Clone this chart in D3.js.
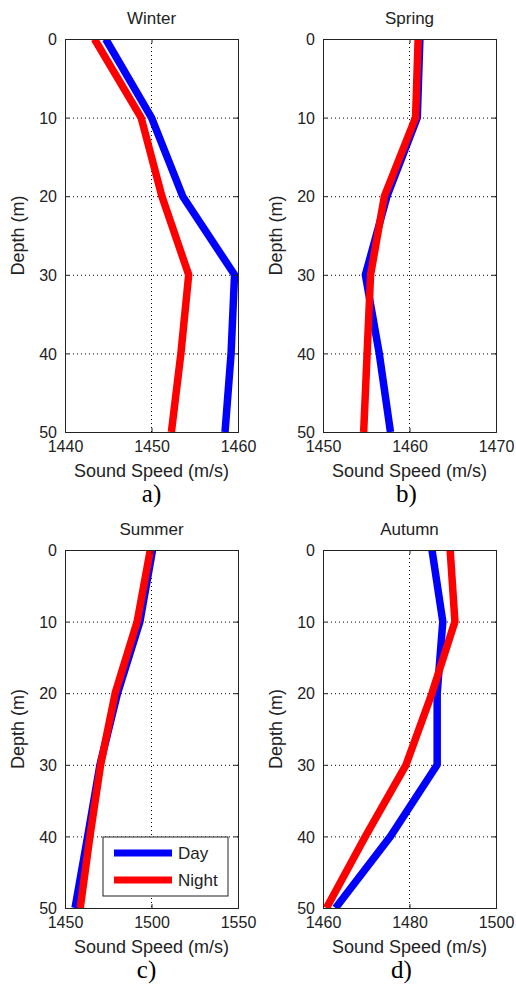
<!DOCTYPE html>
<html>
<head>
<meta charset="utf-8">
<script src="https://cdn.jsdelivr.net/npm/d3@7"></script>
<style>
body { margin: 0; background: #fff; }
text { font-family: "Liberation Sans", Arial, sans-serif; fill: #222; }
</style>
</head>
<body>
<svg id="fig" width="516" height="993"></svg>
<script>
// Depth levels (m) shared by all profiles
var depths = [0, 10, 20, 30, 40, 50];

// Sound speed (m/s)
var winterDay   = [1444.7, 1450.0, 1453.6, 1459.6, 1459.2, 1458.5];
var winterNight = [1443.4, 1448.8, 1451.2, 1454.3, 1453.4, 1452.3];
var springDay   = [1461.2, 1460.9, 1457.4, 1454.9, 1456.5, 1457.8];
var springNight = [1461.0, 1460.7, 1457.1, 1455.5, 1455.1, 1454.7];
var summerDay   = [1500.6, 1493.3, 1480.4, 1470.2, 1463.1, 1455.8];
var summerNight = [1499.3, 1491.7, 1479.0, 1470.6, 1464.4, 1458.8];
var autumnDay   = [1485.2, 1487.7, 1486.4, 1486.4, 1475.6, 1462.9];
var autumnNight = [1489.4, 1490.5, 1485.2, 1479.2, 1469.8, 1460.8];

var titles = ["Winter", "Spring", "Summer", "Autumn"];
var letters = ["a)", "b)", "c)", "d)"];
var xDomains = [[1440, 1460], [1450, 1470], [1450, 1550], [1460, 1500]];
var xTickVals = [[1440, 1450, 1460], [1450, 1460, 1470], [1450, 1500, 1550], [1460, 1480, 1500]];
var yTickVals = [0, 10, 20, 30, 40, 50];
var seriesNames = ["Day", "Night"];
var seriesColors = ["#0000ff", "#ff0000"];

var dayData = [winterDay, springDay, summerDay, autumnDay];
var nightData = [winterNight, springNight, summerNight, autumnNight];

// panel boxes: left, top, width, height
var boxes = [
    {x: 65,  y: 39,  w: 173, h: 393},
    {x: 323, y: 39,  w: 173, h: 393},
    {x: 65,  y: 550, w: 173, h: 358},
    {x: 323, y: 550, w: 173, h: 358}
];
// letters sit a bit off centre in the original
var letterShift = [0, -3, -5, -8];

var svg = d3.select('#fig');

boxes.forEach(function(b, i) {
    var g = svg.append('g').attr('transform', 'translate(' + b.x + ',' + b.y + ')');

    var xScale = d3.scaleLinear().domain(xDomains[i]).range([0, b.w]);
    var yScale = d3.scaleLinear().domain([0, 50]).range([0, b.h]);

    // white plot area
    g.append('rect').attr('width', b.w).attr('height', b.h).attr('fill', '#fff');

    // dotted grid
    g.selectAll('.gx').data(xTickVals[i].slice(1, -1)).enter().append('line')
        .attr('x1', function(d) { return xScale(d); })
        .attr('x2', function(d) { return xScale(d); })
        .attr('y1', 0).attr('y2', b.h)
        .attr('stroke', '#000').attr('stroke-width', 1)
        .attr('stroke-dasharray', '1,3');
    g.selectAll('.gy').data(yTickVals.slice(1, -1)).enter().append('line')
        .attr('y1', function(d) { return yScale(d) + 0.5; })
        .attr('y2', function(d) { return yScale(d) + 0.5; })
        .attr('x1', 0).attr('x2', b.w)
        .attr('stroke', '#000').attr('stroke-width', 1)
        .attr('stroke-dasharray', '1,3');

    // profiles, clipped to the box
    var clipId = 'clip' + i;
    g.append('clipPath').attr('id', clipId).append('rect')
        .attr('width', b.w).attr('height', b.h);

    var line = d3.line()
        .x(function(d) { return xScale(d[1]); })
        .y(function(d) { return yScale(d[0]); });

    [dayData[i], nightData[i]].forEach(function(vals, s) {
        var pts = depths.map(function(dp, k) { return [dp, vals[k]]; });
        g.append('path')
            .attr('d', line(pts))
            .attr('fill', 'none')
            .attr('stroke', seriesColors[s])
            .attr('stroke-width', 7.5)
            .attr('stroke-linejoin', 'round')
            .attr('clip-path', 'url(#' + clipId + ')');
    });

    // axes with inward ticks
    var xAxis = d3.axisBottom(xScale).tickValues(xTickVals[i]).tickSize(-4).tickPadding(9).tickFormat(d3.format('d'));
    var yAxis = d3.axisLeft(yScale).tickValues(yTickVals).tickSize(-4).tickPadding(8).tickFormat(d3.format('d'));

    var gx = g.append('g').attr('transform', 'translate(0,' + b.h + ')').call(xAxis);
    var gy = g.append('g').call(yAxis);
    g.append('g').call(d3.axisTop(xScale).tickValues(xTickVals[i]).tickSize(-4).tickFormat(''));
    g.append('g').attr('transform', 'translate(' + b.w + ',0)')
        .call(d3.axisRight(yScale).tickValues(yTickVals).tickSize(-4).tickFormat(''));

    g.selectAll('.domain').attr('stroke', '#222');
    g.selectAll('.tick line').attr('stroke', '#222');
    gx.selectAll('text').attr('font-size', '16px').attr('fill', '#222');
    gy.selectAll('text').attr('font-size', '16px').attr('fill', '#222').attr('dy', '0.36em');

    // title
    g.append('text')
        .attr('x', b.w / 2).attr('y', -15)
        .attr('text-anchor', 'middle')
        .attr('font-size', '17px')
        .text(titles[i]);

    // x label
    g.append('text')
        .attr('x', b.w / 2).attr('y', b.h + 45)
        .attr('text-anchor', 'middle')
        .attr('font-size', '18px')
        .text('Sound Speed (m/s)');

    // y label
    g.append('text')
        .attr('transform', 'translate(-41,' + (b.h / 2) + ') rotate(-90)')
        .attr('text-anchor', 'middle')
        .attr('font-size', '18px')
        .text('Depth (m)');

    // panel letter
    g.append('text')
        .attr('x', b.w / 2 + letterShift[i]).attr('y', b.h + 70)
        .attr('text-anchor', 'middle')
        .attr('font-size', '25px')
        .style('font-family', '"Liberation Serif", "Times New Roman", serif')
        .style('fill', '#000')
        .text(letters[i]);

    // legend only in the summer panel
    if (i === 2) {
        var lg = g.append('g').attr('transform', 'translate(38,287)');
        lg.append('rect').attr('width', 125).attr('height', 59)
            .attr('fill', '#fff').attr('stroke', '#222').attr('stroke-width', 1);
        seriesNames.forEach(function(name, s) {
            var yy = 16 + s * 27;
            lg.append('line')
                .attr('x1', 11).attr('x2', 69)
                .attr('y1', yy).attr('y2', yy)
                .attr('stroke', seriesColors[s]).attr('stroke-width', 7);
            lg.append('text')
                .attr('x', 75).attr('y', yy + 6)
                .attr('font-size', '17px')
                .text(name);
        });
    }
});
</script>
</body>
</html>
